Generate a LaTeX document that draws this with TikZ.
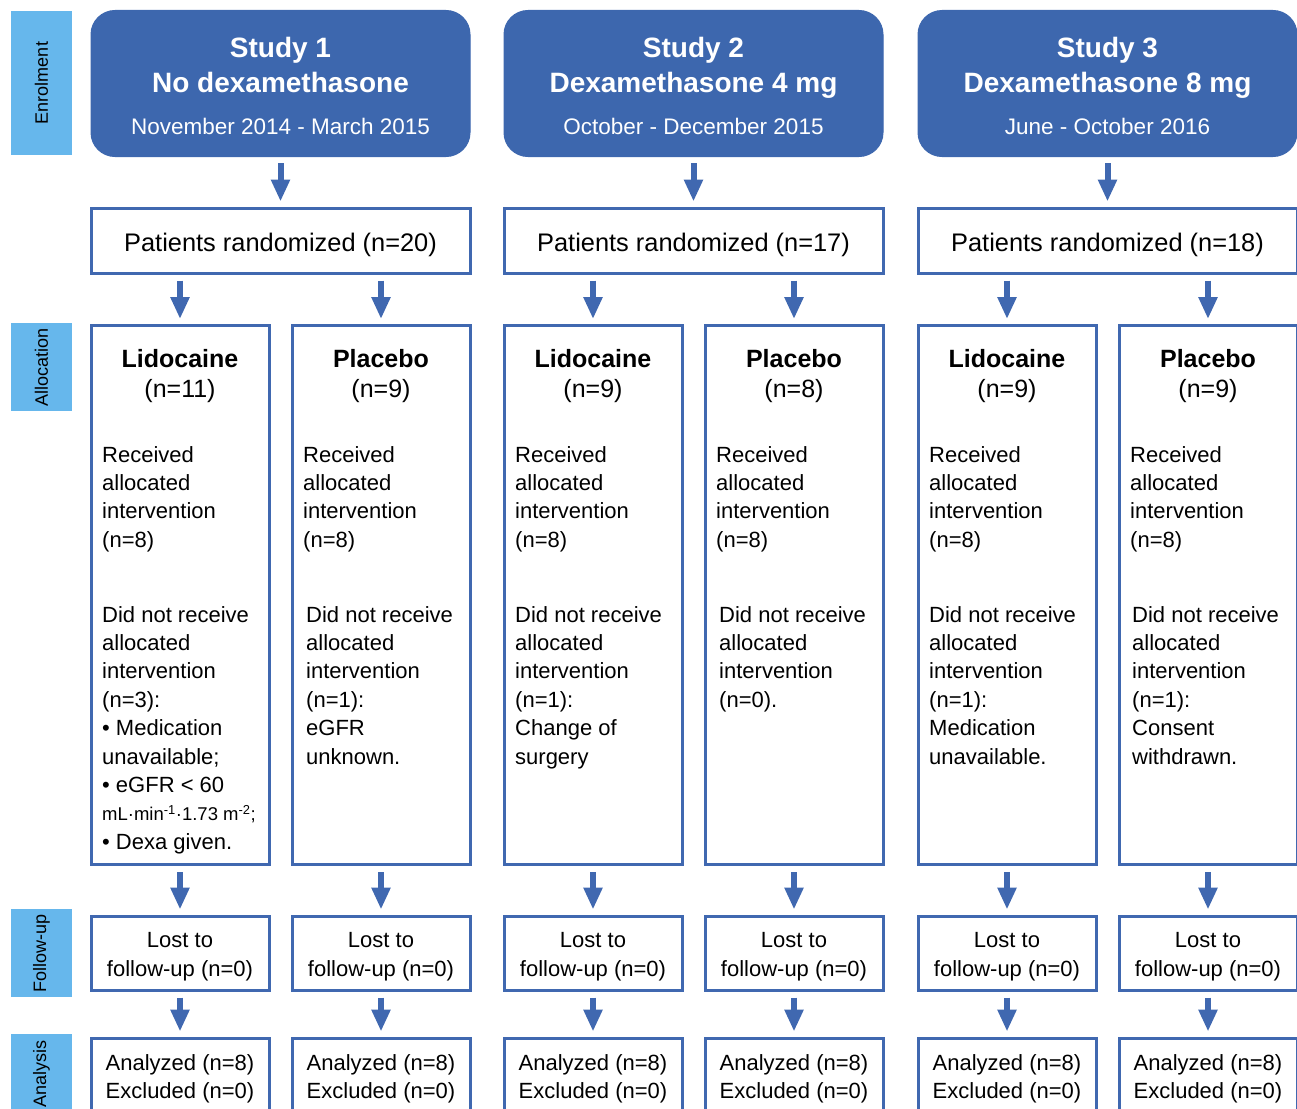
\documentclass[tikz,border=0pt]{standalone}
\usepackage{fontspec}
\setmainfont{Liberation Sans}
\usetikzlibrary{arrows.meta,positioning}
\definecolor{studyblue}{HTML}{3D67AE}
\definecolor{boxblue}{HTML}{4068B0}
\definecolor{sideblue}{HTML}{66B7EC}
\tikzset{
    studybox/.style={draw=studyblue,fill=studyblue,rounded corners=24pt,line width=1pt,
        minimum width=379pt,minimum height=146pt},
    flowbox/.style={draw=boxblue,line width=3pt,inner sep=0pt,align=center},
    sidebox/.style={fill=sideblue,rotate=90,inner sep=0pt,minimum height=61pt,
        font=\fontsize{18}{20}\selectfont},
    bodyfont/.style={font=\fontsize{22}{28.4}\selectfont},
    bodytext/.style={bodyfont,inner sep=0pt,align=left,anchor=base west},
    flowarrow/.style={draw=boxblue,line width=6pt,-{Triangle[width=18pt,length=22pt]},
        shorten <=6pt,shorten >=5pt}
}
\begin{document}
\begin{tikzpicture}[x=1pt,y=-1pt]
    \useasboundingbox (0,0) rectangle (1297,1108);
    \node[sidebox,minimum width=144pt] (enrol) at (41.5,83) {Enrolment};
    \node[sidebox,minimum width=88pt] (alloc) at (41.5,367) {Allocation};
    \node[sidebox,minimum width=88pt] (follow) at (41.5,953) {Follow-up};
    \node[sidebox,minimum width=80pt] (analysis) at (41.5,1074) {Analysis};
    \foreach \s/\xa/\title/\dates/\n/\nl/\np in {
            1/91/No dexamethasone/November 2014 - March 2015/20/11/9,
            2/504/Dexamethasone 4 mg/October - December 2015/17/9/8,
            3/918/Dexamethasone 8 mg/June - October 2016/18/9/9} {
            \node[studybox] (s\s) at (\xa+189.5,83.5) {};
            \node[anchor=base,text=white,align=center,inner sep=0pt,
                font=\fontsize{28}{35}\selectfont\bfseries] (t\s) at (\xa+189.5,92) {Study \s\\\title};
            \node[anchor=base,text=white,inner sep=0pt,font=\fontsize{22.5}{27}\selectfont]
                (d\s) at (\xa+189.5,134) {\dates};
            \node[flowbox,minimum width=379pt,minimum height=65pt,text height=23pt,text depth=2pt,
                font=\fontsize{25.4}{30}\selectfont] (r\s) at (\xa+189.5,240.5) {Patients randomized (n=\n)};
            \node[flowbox,anchor=north,minimum width=178pt,minimum height=539pt] (l\s) at (\xa+89,324) {};
            \node[flowbox,anchor=north,minimum width=178pt,minimum height=539pt] (p\s) at (\xa+290,324) {};
            \node[anchor=base,align=center,inner sep=0pt,font=\fontsize{25}{30}\selectfont]
                (lh\s) at (\xa+89,397) {\textbf{Lidocaine}\\(n=\nl)};
            \node[anchor=base,align=center,inner sep=0pt,font=\fontsize{25}{30}\selectfont]
                (ph\s) at (\xa+290,397) {\textbf{Placebo}\\(n=\np)};
            \node[bodytext] (lr\s) at (\xa+11,547.2) {Received\\allocated\\intervention\\(n=8)};
            \node[bodytext] (pr\s) at (\xa+212,547.2) {Received\\allocated\\intervention\\(n=8)};
            \node[flowbox,bodyfont,minimum width=178pt,minimum height=74pt,text height=46pt,text depth=0pt]
                (lf\s) at (\xa+89,953) {Lost to\\follow-up (n=0)};
            \node[flowbox,bodyfont,minimum width=178pt,minimum height=74pt,text height=46pt,text depth=0pt]
                (pf\s) at (\xa+290,953) {Lost to\\follow-up (n=0)};
            \node[flowbox,bodyfont,minimum width=178pt,minimum height=77pt,text height=44pt,text depth=0pt]
                (la\s) at (\xa+89,1076.5) {Analyzed (n=8)\\Excluded (n=0)};
            \node[flowbox,bodyfont,minimum width=178pt,minimum height=77pt,text height=44pt,text depth=0pt]
                (pa\s) at (\xa+290,1076.5) {Analyzed (n=8)\\Excluded (n=0)};
            \draw[flowarrow] (s\s) -- (r\s);
            \draw[flowarrow] (l\s.north |- r\s.south) -- (l\s);
            \draw[flowarrow] (p\s.north |- r\s.south) -- (p\s);
            \draw[flowarrow] (l\s) -- (lf\s);
            \draw[flowarrow] (p\s) -- (pf\s);
            \draw[flowarrow] (lf\s) -- (la\s);
            \draw[flowarrow] (pf\s) -- (pa\s);
        }
    \node[bodytext] (ln1) at (102,849.2) {Did not receive\\allocated\\intervention\\(n=3):\\%
        \textbullet{} Medication\\unavailable;\\\textbullet{} eGFR < 60\\%
        {\fontsize{18.5}{28.4}\selectfont mL·min\textsuperscript{-1}·1.73 m\textsuperscript{-2};}\\%
        \textbullet{} Dexa given.};
    \node[bodytext] (pn1) at (306,764) {Did not receive\\allocated\\intervention\\(n=1):\\eGFR\\unknown.};
    \node[bodytext] (ln2) at (515,764) {Did not receive\\allocated\\intervention\\(n=1):\\Change of\\surgery};
    \node[bodytext] (pn2) at (719,707.2) {Did not receive\\allocated\\intervention\\(n=0).};
    \node[bodytext] (ln3) at (929,764) {Did not receive\\allocated\\intervention\\(n=1):\\Medication\\unavailable.};
    \node[bodytext] (pn3) at (1132,764) {Did not receive\\allocated\\intervention\\(n=1):\\Consent\\withdrawn.};
\end{tikzpicture}
\end{document}
